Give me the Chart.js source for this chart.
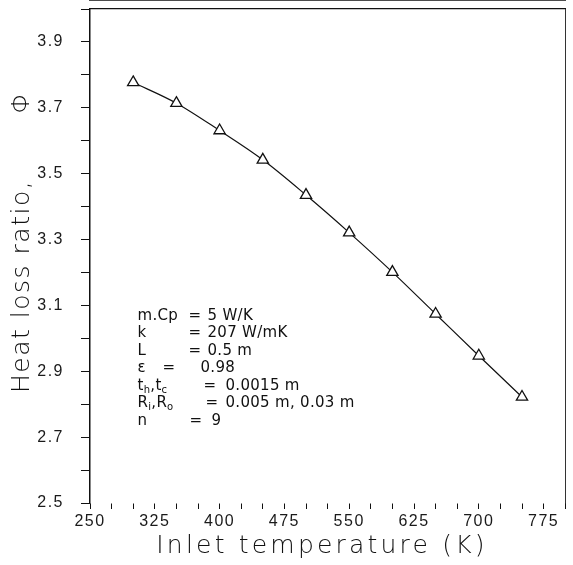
<!DOCTYPE html>
<html lang="en">
<head>
<meta charset="UTF-8">
<title>Heat loss ratio vs inlet temperature</title>
<script src="https://cdn.jsdelivr.net/npm/chart.js"></script>
<style>
  html, body { margin: 0; padding: 0; background: #fff; }
  #wrap { width: 573px; height: 565px; }
</style>
</head>
<body>
<div id="wrap"><canvas id="heatChart"></canvas></div>
<script>
// values
const inletTemps = [300, 350, 400, 450, 500, 550, 600, 650, 700, 750];
const heatLossRatio = [3.777, 3.714, 3.631, 3.542, 3.435, 3.321, 3.201, 3.074, 2.947, 2.822];

const xTickValues = [250, 275, 300, 325, 350, 375, 400, 425, 450, 475, 500, 525, 550,
                     575, 600, 625, 650, 675, 700, 725, 750, 775, 800];
const xTickLabels = [250, 325, 400, 475, 550, 625, 700, 775];
const yTickValues = [2.5, 2.6, 2.7, 2.8, 2.9, 3.0, 3.1, 3.2, 3.3, 3.4, 3.5, 3.6, 3.7, 3.8, 3.9, 4.0];
const yTickLabels = [2.5, 2.7, 2.9, 3.1, 3.3, 3.5, 3.7, 3.9];

// parameter box: [text, isSubscript] pieces
const paramNames = [
  [['m.Cp']],
  [['k']],
  [['L']],
  [['\u03b5']],
  [['t'], ['h', 1], [',t'], ['c', 1]],
  [['R'], ['i', 1], [',R'], ['o', 1]],
  [['n']]
];
const paramValues = ['5 W/K', '207 W/mK', '0.5 m', '0.98', '0.0015 m', '0.005 m, 0.03 m', '9'];

const ink = '#111';

// y title + tick labels use 1.5px spacing, x title (drawn after datasets) wider
const spacingPlugin = {
  id: 'spacing',
  beforeDraw(chart) { chart.ctx.letterSpacing = '1.5px'; },
  afterDatasetsDraw(chart) { chart.ctx.letterSpacing = '3.2px'; },
  afterDraw(chart) { chart.ctx.letterSpacing = '0px'; }
};

const paramPlugin = {
  id: 'paramText',
  afterDatasetsDraw(chart) {
    const {ctx, scales: {x, y}} = chart;
    const left = x.getPixelForValue(305);
    const top = y.getPixelForValue(3.068);
    const eqOffsets = [51, 51, 51, 25, 66, 68, 52];
    const valOffsets = [70, 70, 70, 63, 88, 88, 74];
    ctx.save();
    ctx.letterSpacing = '0.3px';
    ctx.fillStyle = ink;
    ctx.textBaseline = 'middle';
    ctx.textAlign = 'left';
    paramNames.forEach((parts, i) => {
      const rowY = top + i * 17.5;
      let px = left;
      parts.forEach(([t, sub]) => {
        ctx.font = sub ? '10px "DejaVu Sans"' : '15px "DejaVu Sans"';
        ctx.fillText(t, px, sub ? rowY + 4 : rowY);
        px += ctx.measureText(t).width;
      });
      ctx.font = '15px "DejaVu Sans"';
      ctx.fillText('=', left + eqOffsets[i], rowY);
      ctx.fillText(paramValues[i], left + valOffsets[i], rowY);
    });
    ctx.restore();
  }
};

// fixed axis box sizes, no extra label overhang padding
function fixBox(w, h) {
  return s => {
    if (w !== null) s.width = w;
    if (h !== null) s.height = h;
    s.paddingTop = 0; s.paddingBottom = 0; s.paddingLeft = 0; s.paddingRight = 0;
  };
}

const tickFont = {family: 'Liberation Sans', size: 16};
const titleFont = {family: 'DejaVu Sans', size: 25, weight: 200};

new Chart(document.getElementById('heatChart'), {
  type: 'line',
  data: {
    datasets: [{
      data: inletTemps.map((t, i) => ({x: t, y: heatLossRatio[i]})),
      borderColor: ink,
      borderWidth: 1.2,
      cubicInterpolationMode: 'monotone',
      pointStyle: 'triangle',
      pointRadius: 6.5,
      pointBorderWidth: 1.3,
      pointBorderColor: ink,
      pointBackgroundColor: '#fff',
      xAxisID: 'x',
      yAxisID: 'y'
    }]
  },
  options: {
    responsive: true,
    maintainAspectRatio: false,
    animation: false,
    layout: {padding: {top: 9, right: 1, left: 0, bottom: 0}},
    plugins: {legend: {display: false}, tooltip: {enabled: false}},
    scales: {
      x: {
        type: 'linear',
        position: 'bottom',
        min: 250,
        max: 800,
        afterBuildTicks: s => { s.ticks = xTickValues.map(v => ({value: v})); },
        afterFit: fixBox(null, 62),
        ticks: {
          callback: v => xTickLabels.includes(v) ? String(v) : '',
          font: tickFont,
          color: '#1a1a1a',
          padding: 3,
          maxRotation: 0,
          autoSkip: false,
          z: 0
        },
        grid: {drawOnChartArea: false, tickLength: 6, color: ink, lineWidth: 1, z: 1},
        border: {color: ink, width: 1.5},
        title: {
          display: true,
          text: 'Inlet temperature (K) ',
          font: titleFont,
          color: ink,
          padding: {top: 0, bottom: 4}
        }
      },
      y: {
        type: 'linear',
        position: 'left',
        min: 2.5,
        max: 4.0,
        afterBuildTicks: s => { s.ticks = yTickValues.map(v => ({value: v})); },
        afterFit: fixBox(90, null),
        ticks: {
          callback: v => yTickLabels.includes(v) ? v.toFixed(1) : '',
          font: tickFont,
          color: '#1a1a1a',
          padding: 17,
          autoSkip: false
        },
        grid: {drawOnChartArea: false, tickLength: 9, color: ink, lineWidth: 1},
        border: {color: ink, width: 1.5},
        title: {
          display: true,
          text: '   Heat loss ratio,       \u03a6',
          font: titleFont,
          color: ink,
          padding: {top: 7, bottom: 0}
        }
      },
      xTop: {
        type: 'linear',
        position: 'top',
        min: 250,
        max: 800,
        ticks: {display: false},
        grid: {display: false},
        border: {color: ink, width: 1.2},
        afterFit: fixBox(null, 0)
      },
      yRight: {
        type: 'linear',
        position: 'right',
        min: 2.5,
        max: 4.0,
        ticks: {display: false},
        grid: {display: false},
        border: {color: '#333', width: 1},
        afterFit: fixBox(0, null)
      }
    }
  },
  plugins: [spacingPlugin, paramPlugin]
});
</script>
</body>
</html>
